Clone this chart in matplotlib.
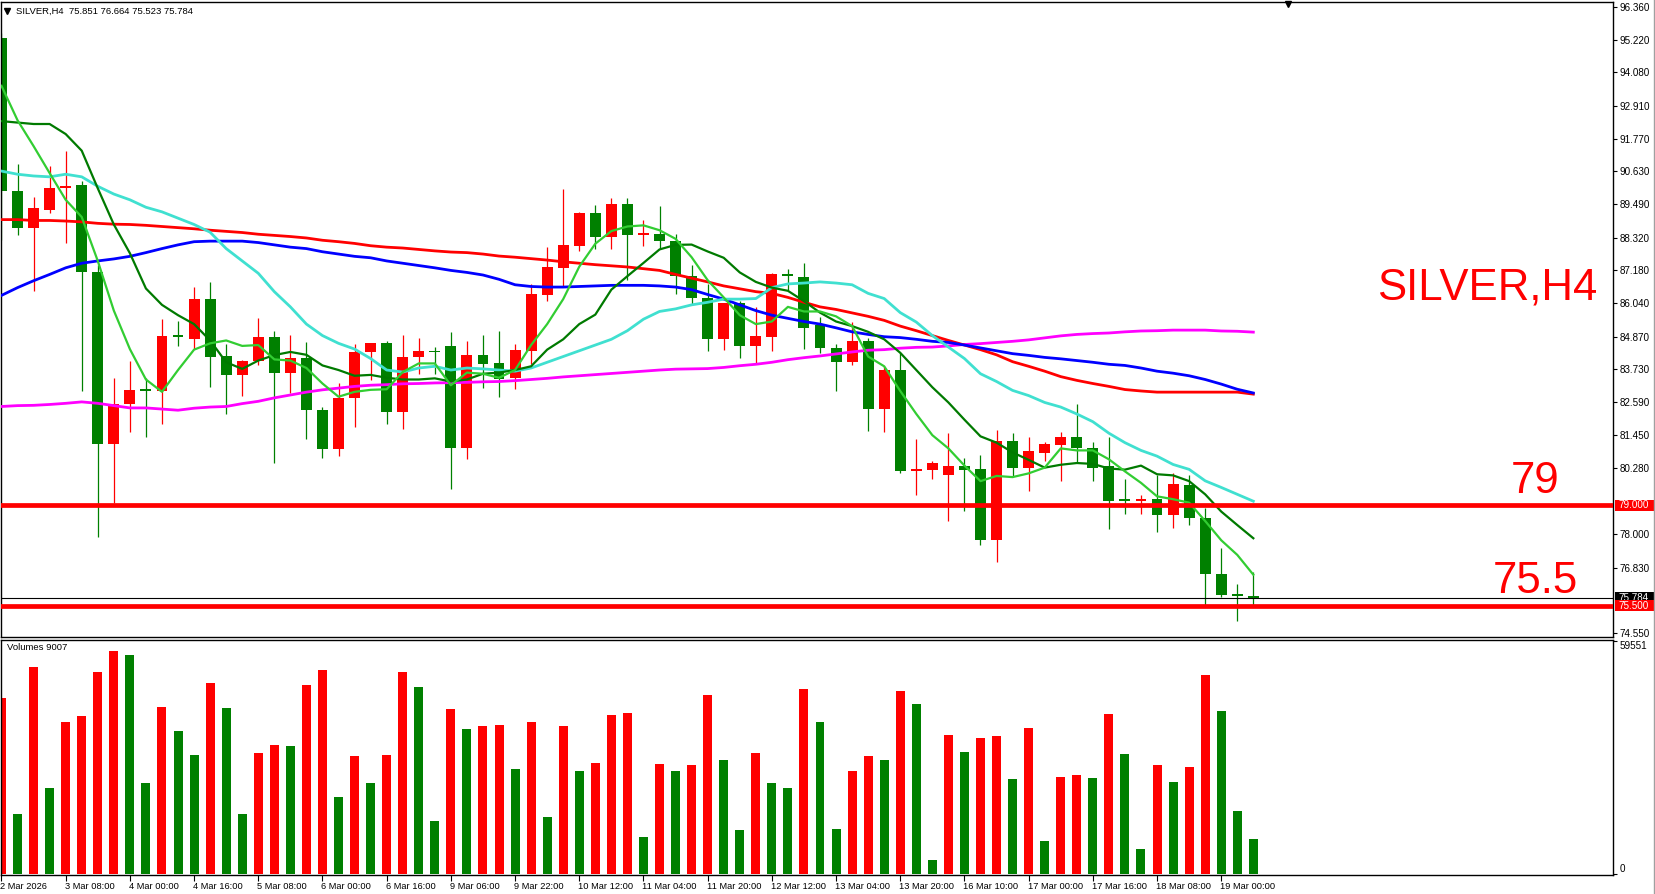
import matplotlib
matplotlib.use('Agg')
import matplotlib.pyplot as plt
import matplotlib.transforms as mtransforms
from matplotlib.lines import Line2D
from matplotlib.patches import Rectangle
import numpy as np

plt.rcParams['font.family'] = ['Liberation Sans', 'DejaVu Sans']

# H4 candles, left to right
opens = [95.28, 89.95, 88.64, 89.29, 90.05, 90.16, 87.11, 81.15, 82.51, 83.02,
         82.98, 84.90, 84.80, 86.19, 84.19, 83.55, 84.02, 84.87, 83.61, 84.13,
         82.33, 80.97, 82.74, 84.33, 84.64, 82.24, 84.16, 84.36, 84.55, 81.00,
         84.24, 83.97, 83.44, 84.39, 86.34, 87.28, 88.03, 89.19, 88.36, 89.49,
         88.42, 88.44, 88.20, 86.98, 86.23, 84.80, 86.03, 84.55, 84.87, 87.04,
         86.95, 85.27, 84.48, 84.00, 84.71, 82.36, 83.71, 80.20, 80.24, 80.04,
         80.35, 80.27, 77.80, 81.24, 80.28, 80.82, 81.11, 81.38, 80.98, 80.36,
         79.18, 79.14, 79.21, 78.67, 79.71, 78.55, 76.60, 75.88, 75.851]
highs = [95.44, 90.88, 89.73, 90.80, 91.35, 90.29, 87.37, 83.42, 84.03, 83.42,
         85.49, 85.41, 86.60, 86.77, 84.60, 84.05, 85.52, 85.07, 84.93, 84.68,
         82.41, 83.27, 84.60, 84.66, 84.71, 84.93, 84.83, 84.51, 85.04, 84.71,
         84.93, 85.07, 84.60, 86.71, 88.00, 90.00, 89.22, 89.47, 89.71, 89.71,
         88.93, 89.41, 88.44, 87.37, 86.71, 86.05, 86.11, 85.91, 87.08, 87.22,
         87.44, 85.57, 84.60, 85.40, 84.84, 83.84, 84.31, 81.31, 80.55, 81.52,
         80.64, 80.75, 81.61, 81.53, 81.38, 81.19, 81.55, 82.52, 81.19, 81.38,
         79.91, 79.37, 80.07, 80.13, 80.04, 78.91, 77.51, 76.24, 76.664]
lows = [88.24, 88.41, 86.48, 89.17, 88.15, 82.97, 77.91, 79.08, 81.56, 81.37,
        81.84, 84.55, 84.44, 83.11, 82.17, 82.82, 83.87, 80.48, 82.91, 81.32,
        80.63, 80.73, 81.73, 83.37, 81.84, 81.64, 83.57, 83.57, 79.57, 80.61,
        83.08, 82.78, 83.04, 83.91, 86.12, 86.64, 87.87, 87.93, 87.91, 86.84,
        88.04, 87.91, 86.37, 86.01, 84.38, 84.42, 84.13, 83.95, 84.38, 86.51,
        84.44, 84.31, 82.97, 83.87, 81.60, 81.56, 80.13, 79.37, 79.91, 78.44,
        78.81, 77.60, 77.04, 80.02, 79.48, 80.55, 79.84, 80.51, 79.84, 78.17,
        78.71, 78.71, 78.07, 78.20, 78.31, 75.51, 75.80, 74.97, 75.523]
closes = [89.93, 88.65, 89.36, 90.05, 90.09, 87.11, 81.15, 82.51, 83.02, 82.99,
          84.90, 84.86, 86.19, 84.17, 83.55, 84.03, 84.87, 83.61, 84.13, 82.33,
          80.97, 82.74, 84.33, 84.64, 82.24, 84.16, 84.36, 84.33, 81.00, 84.24,
          83.93, 83.41, 84.41, 86.36, 87.31, 88.07, 89.19, 88.36, 89.49, 88.40,
          88.44, 88.20, 87.00, 86.23, 84.80, 86.03, 84.55, 84.90, 87.04, 87.00,
          85.19, 84.48, 84.00, 84.71, 82.36, 83.71, 80.20, 80.23, 80.46, 80.36,
          80.24, 77.80, 81.24, 80.28, 80.90, 81.14, 81.38, 80.98, 80.28, 79.16,
          79.14, 79.21, 78.67, 79.74, 78.54, 76.60, 75.87, 75.85, 75.784]
volumes = [45000, 15340, 52900, 21980, 38850, 40380, 51630, 57000, 55980, 23260,
           42690, 36550, 30420, 48820, 42430, 15340, 30930, 32970, 32720, 48310,
           52140, 19680, 30160, 23260, 30420, 51630, 47800, 13550, 42170, 37060,
           37830, 38080, 26840, 38850, 14570, 37830, 26330, 28370, 40640, 41150,
           9460, 28120, 26330, 27860, 45750, 29140, 11250, 30930, 23260, 21980,
           47290, 38850, 11500, 26330, 30160, 29140, 46770, 43450, 3580, 35530,
           31180, 34760, 35270, 24280, 37320, 8430, 24790, 25300, 24540, 40900,
           30670, 6390, 27860, 23520, 27350, 50860, 41660, 16100, 9007]

# moving averages
ma_lime = [93.61, 92.41, 91.51, 90.57, 89.64, 89.04, 87.51, 85.78, 84.44, 83.38,
           82.95, 83.71, 84.42, 84.64, 84.74, 84.55, 84.58, 84.08, 84.04, 83.78,
           83.24, 82.78, 82.95, 83.02, 83.04, 83.64, 83.94, 83.94, 83.18, 83.62,
           83.58, 83.44, 83.71, 84.58, 85.31, 86.18, 87.31, 88.11, 88.55, 88.71,
           88.75, 88.58, 88.28, 87.64, 86.84, 86.24, 85.62, 85.31, 85.40, 85.91,
           85.75, 85.75, 85.58, 85.24, 84.18, 83.84, 82.98, 82.18, 81.44, 80.98,
           80.38, 79.84, 80.02, 79.98, 80.11, 80.31, 80.98, 80.91, 80.91, 80.60,
           80.18, 79.78, 79.31, 79.21, 79.09, 78.45, 77.78, 77.27, 76.58]
ma_green = [92.38, 92.33, 92.28, 92.28, 91.93, 91.35, 90.04, 88.78, 87.78, 86.55,
            85.98, 85.62, 85.31, 84.74, 83.98, 83.75, 84.04, 84.23, 84.34, 84.24,
            83.87, 83.71, 83.51, 83.54, 83.44, 83.38, 83.38, 83.42, 83.31, 83.38,
            83.58, 83.62, 83.71, 83.84, 84.42, 84.78, 85.31, 85.64, 86.51, 86.98,
            87.44, 87.91, 88.07, 88.08, 87.84, 87.62, 87.11, 86.78, 86.58, 86.47,
            86.11, 85.71, 85.40, 85.24, 85.04, 84.78, 84.31, 83.71, 83.11, 82.58,
            81.98, 81.40, 81.18, 80.84, 80.58, 80.31, 80.41, 80.47, 80.44, 80.28,
            80.24, 80.38, 80.08, 80.04, 79.84, 79.38, 78.78, 78.31, 77.85]
ma_turq = [90.64, 90.53, 90.47, 90.44, 90.53, 90.44, 90.11, 89.84, 89.64, 89.38,
           89.22, 89.00, 88.78, 88.51, 87.94, 87.51, 87.08, 86.44, 85.91, 85.31,
           84.91, 84.64, 84.44, 84.11, 83.71, 83.64, 83.78, 83.84, 83.71, 83.78,
           83.75, 83.71, 83.67, 83.78, 83.98, 84.18, 84.38, 84.58, 84.78, 85.08,
           85.48, 85.75, 85.84, 85.98, 86.07, 86.18, 86.18, 86.20, 86.58, 86.71,
           86.74, 86.78, 86.74, 86.68, 86.38, 86.20, 85.71, 85.38, 84.91, 84.51,
           84.11, 83.58, 83.31, 83.00, 82.82, 82.58, 82.42, 82.18, 81.91, 81.51,
           81.18, 80.91, 80.71, 80.42, 80.25, 79.85, 79.62, 79.38, 79.14]
ma_blue = [86.31, 86.58, 86.82, 87.04, 87.27, 87.43, 87.51, 87.58, 87.67, 87.80,
           87.94, 88.07, 88.18, 88.20, 88.20, 88.20, 88.15, 88.07, 87.99, 87.94,
           87.83, 87.75, 87.67, 87.62, 87.51, 87.43, 87.35, 87.27, 87.18, 87.11,
           87.02, 86.87, 86.68, 86.62, 86.60, 86.60, 86.62, 86.64, 86.66, 86.66,
           86.66, 86.64, 86.60, 86.51, 86.34, 86.18, 85.98, 85.78, 85.62, 85.51,
           85.40, 85.31, 85.18, 85.04, 84.95, 84.87, 84.84, 84.78, 84.71, 84.67,
           84.58, 84.48, 84.38, 84.28, 84.22, 84.15, 84.10, 84.04, 83.98, 83.91,
           83.87, 83.78, 83.67, 83.60, 83.51, 83.38, 83.22, 83.04, 82.91]
ma_red = [88.95, 88.95, 88.92, 88.92, 88.90, 88.87, 88.82, 88.79, 88.78, 88.75,
          88.71, 88.67, 88.63, 88.58, 88.54, 88.50, 88.44, 88.40, 88.36, 88.31,
          88.23, 88.18, 88.12, 88.04, 87.99, 87.96, 87.91, 87.86, 87.82, 87.80,
          87.75, 87.68, 87.64, 87.59, 87.54, 87.48, 87.43, 87.38, 87.34, 87.30,
          87.24, 87.18, 87.04, 86.91, 86.78, 86.64, 86.54, 86.44, 86.38, 86.24,
          86.07, 85.91, 85.82, 85.70, 85.58, 85.44, 85.24, 85.08, 84.91, 84.74,
          84.58, 84.42, 84.24, 84.00, 83.84, 83.67, 83.48, 83.35, 83.24, 83.14,
          83.03, 82.98, 82.94, 82.94, 82.94, 82.94, 82.94, 82.94, 82.87]
ma_magenta = [82.44, 82.47, 82.48, 82.51, 82.55, 82.60, 82.55, 82.47, 82.39, 82.39,
              82.35, 82.31, 82.38, 82.42, 82.44, 82.54, 82.62, 82.74, 82.84, 82.94,
              83.02, 83.08, 83.14, 83.18, 83.20, 83.23, 83.24, 83.26, 83.27, 83.28,
              83.30, 83.31, 83.34, 83.38, 83.42, 83.47, 83.51, 83.55, 83.59, 83.63,
              83.67, 83.71, 83.74, 83.75, 83.76, 83.80, 83.86, 83.91, 83.98, 84.07,
              84.14, 84.20, 84.27, 84.34, 84.40, 84.42, 84.47, 84.50, 84.51, 84.55,
              84.60, 84.63, 84.67, 84.71, 84.76, 84.83, 84.90, 84.95, 84.98, 85.00,
              85.04, 85.07, 85.08, 85.10, 85.10, 85.10, 85.07, 85.06, 85.03]

date_labels = ['2 Mar 2026', '3 Mar 08:00', '4 Mar 00:00', '4 Mar 16:00', '5 Mar 08:00',
               '6 Mar 00:00', '6 Mar 16:00', '9 Mar 06:00', '9 Mar 22:00', '10 Mar 12:00',
               '11 Mar 04:00', '11 Mar 20:00', '12 Mar 12:00', '13 Mar 04:00', '13 Mar 20:00',
               '16 Mar 10:00', '17 Mar 00:00', '17 Mar 16:00', '18 Mar 08:00', '19 Mar 00:00']
price_ticks = [96.36, 95.22, 94.08, 92.91, 91.77, 90.63, 89.49, 88.32, 87.18, 86.04,
               84.87, 83.73, 82.59, 81.45, 80.28, 78.00, 76.83, 74.55]
levels = [79.0, 75.5]
level_texts = ['79', '75.5']
bid = 75.784
vol_max = 59551

GREEN = '#008000'
RED = '#FF0000'
W, H = 1656, 894

o = np.array(opens); h = np.array(highs); l = np.array(lows); c = np.array(closes)
x = np.arange(len(c))
cand_cols = [RED if cc >= oo else GREEN for oo, cc in zip(o, c)]
v = np.array(volumes)
vol_cols = [RED] + [RED if v[i] > v[i - 1] else GREEN for i in range(1, len(v))]

fig = plt.figure(figsize=(W / 100, H / 100), dpi=100)
ax = fig.add_axes([1 / W, 1 - 637 / H, 1612 / W, 635 / H])
axv = fig.add_axes([1 / W, 1 - 875 / H, 1612 / W, 235 / H], sharex=ax)

# candles
ax.vlines(x, l, h, colors=cand_cols, lw=0.9, zorder=2)
body_h = np.maximum(np.abs(c - o), 0.06)
ax.bar(x, body_h, bottom=np.minimum(o, c), width=0.68, color=cand_cols, linewidth=0, zorder=2)

# moving averages
ax.plot(x, ma_magenta, color='#FF00FF', lw=2.0, zorder=3)
ax.plot(x, ma_red, color='#FF0000', lw=2.0, zorder=3)
ax.plot(x, ma_blue, color='#0000FF', lw=2.0, zorder=3)
ax.plot(x, ma_turq, color='#40E0D0', lw=2.0, zorder=3)
ax.plot(x, ma_green, color='#007A00', lw=1.6, zorder=4)
ax.plot(x, ma_lime, color='#32CD32', lw=1.6, zorder=4)

# support levels and bid line
for lv in levels:
    ax.axhline(lv, color=RED, lw=3.4, zorder=5)
ax.axhline(bid, color='black', lw=0.8, zorder=5)

ax.set_xlim(-0.03, 100.41)
ax.set_ylim(74.41, 96.53)

ytr = ax.get_yaxis_transform()
ax.text(0.990, 86.15, 'SILVER,H4', transform=ytr, ha='right', va='baseline',
        fontsize=31.5, color=RED)
ax.text(0.967, 79.43, level_texts[0], transform=ytr, ha='right', va='baseline',
        fontsize=31.5, color=RED)
ax.text(0.978, 75.95, level_texts[1], transform=ytr, ha='right', va='baseline',
        fontsize=31.5, color=RED)

# header
ax.plot([6.5 / 1612], [1 - 9 / 635], marker='v', ms=4, color='black',
        transform=ax.transAxes, clip_on=False)
ax.text(15 / 1612, 1 - 9 / 635, 'SILVER,H4  %.3f %.3f %.3f %.3f' % (o[-1], h[-1], l[-1], c[-1]),
        transform=ax.transAxes, ha='left', va='center', fontsize=6.8)
# chart shift marker
ax.plot([1287 / 1612], [1 - 2 / 635], marker='v', ms=5, color='black',
        transform=ax.transAxes, clip_on=False)

ax.yaxis.tick_right()
ax.set_yticks(price_ticks)
ax.set_yticklabels(['%.3f' % p for p in price_ticks])
ax.tick_params(axis='y', direction='out', length=3, width=0.8, pad=1.5, labelsize=7.1)
ax.tick_params(axis='x', bottom=False, labelbottom=False)

# price tags on the axis (bid first, levels drawn over it)
for val, fc, zo in [(bid, 'black', 10), (levels[0], RED, 12), (levels[1], RED, 12)]:
    ax.add_patch(Rectangle((1.001, val - 0.19), 0.0245, 0.38, transform=ytr,
                           facecolor=fc, edgecolor='none', clip_on=False, zorder=zo))
    ax.text(1.0035, val, '%.3f' % val, transform=ytr, ha='left', va='center',
            fontsize=7.1, color='white', zorder=zo + 1, clip_on=False)

# volumes
axv.bar(x, v, width=0.56, color=vol_cols, linewidth=0)
axv.set_ylim(-255, 59810)
axv.yaxis.tick_right()
axv.set_yticks([0, vol_max])
axv.set_yticklabels(['0', str(vol_max)])
axv.tick_params(axis='y', direction='out', length=3, width=0.8, pad=1.5, labelsize=7.1)
for lbl, va in zip(axv.get_yticklabels(), ['bottom', 'top']):
    lbl.set_va(va)
axv.text(6 / 1612, 1 - 7 / 235, 'Volumes %d' % volumes[-1], transform=axv.transAxes,
         ha='left', va='center', fontsize=6.8)

axv.set_xticks(np.arange(len(date_labels)) * 4)
axv.set_xticklabels(date_labels)
axv.tick_params(axis='x', direction='out', length=4, width=0.8, pad=1, labelsize=6.7)
for lbl in axv.get_xticklabels():
    lbl.set_ha('left')
    lbl.set_transform(lbl.get_transform() + mtransforms.ScaledTranslation(-1 / 100, 0, fig.dpi_scale_trans))

for a in (ax, axv):
    for s in a.spines.values():
        s.set_color('black')
        s.set_linewidth(1.0)

fig.add_artist(Line2D([1654.5 / W] * 2, [0, 1], color='#a0a0a0', lw=1))

fig.savefig('out.png', dpi=100)
